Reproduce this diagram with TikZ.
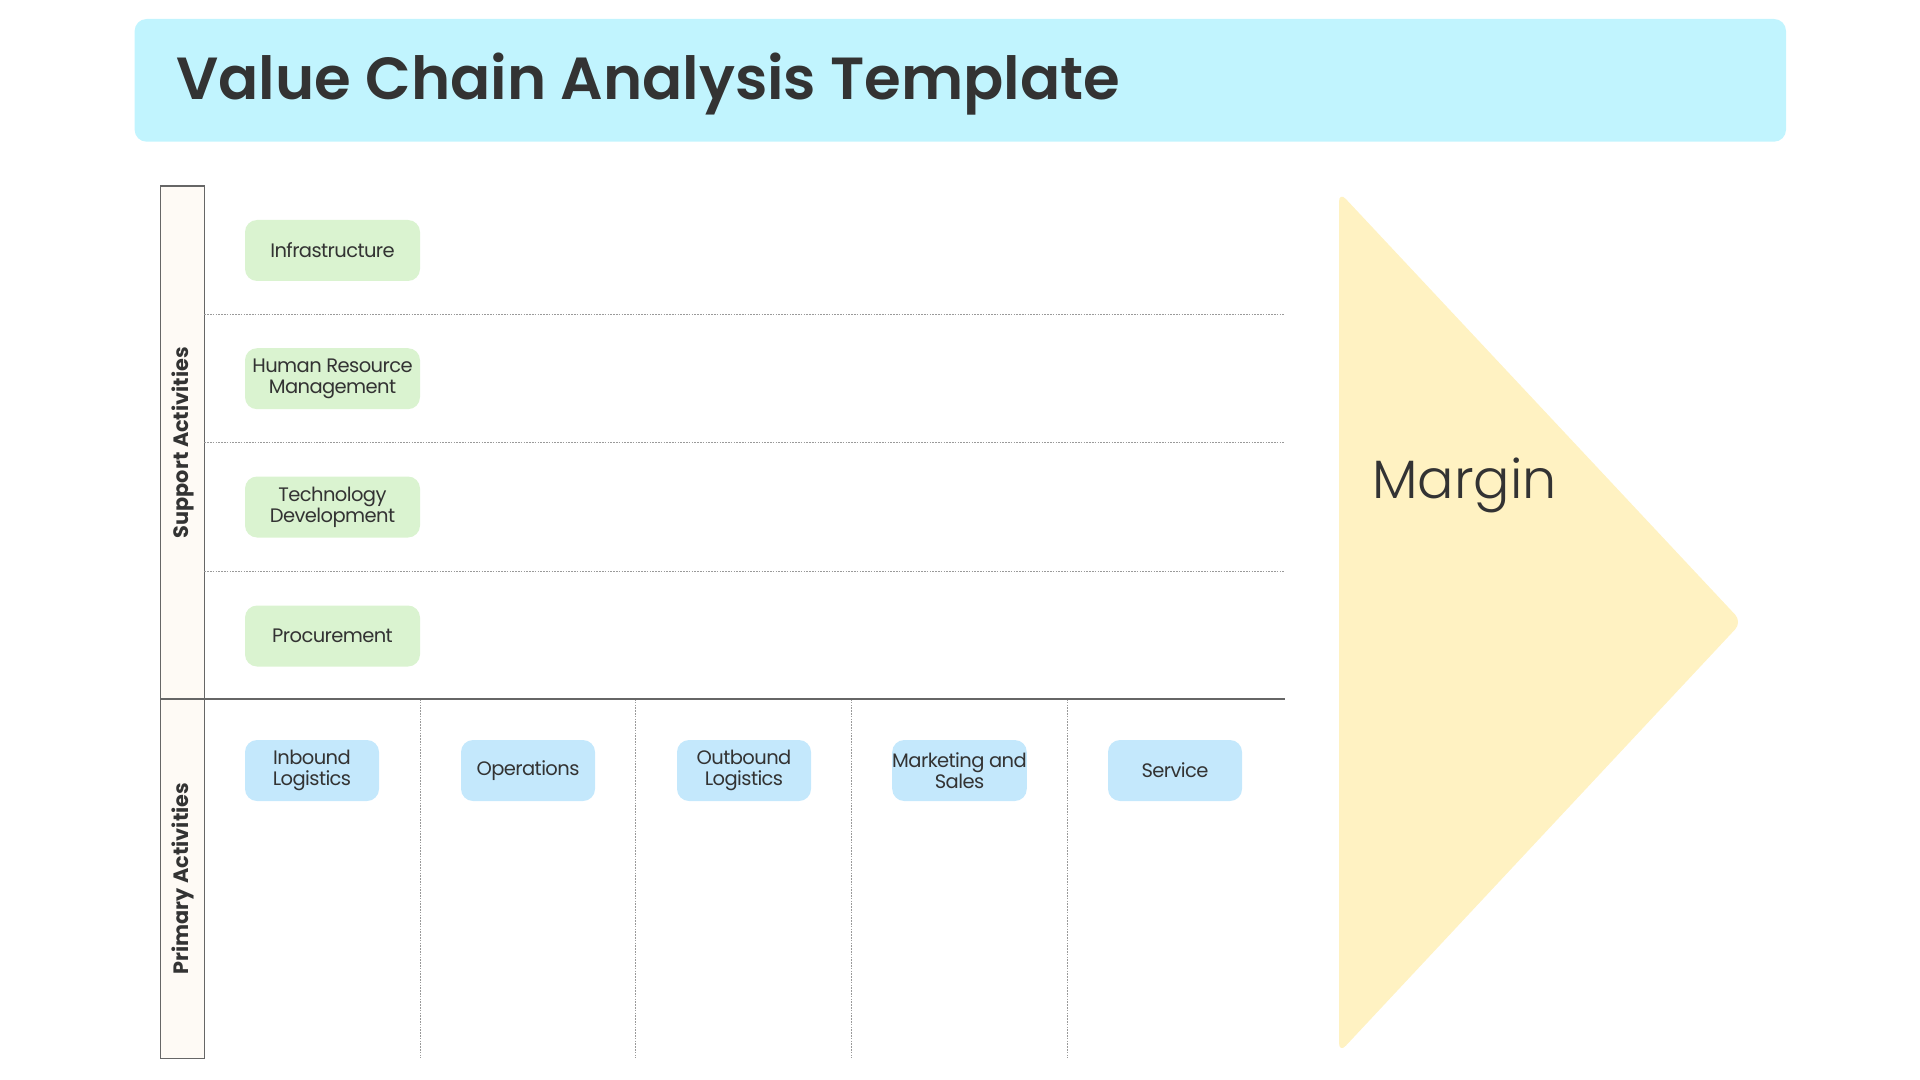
\documentclass[tikz,border=0pt]{standalone}
\usepackage{fontspec}
\setmainfont{Poppins}
\newfontfamily\titlefont{Poppins SemiBold}
\newfontfamily\marginfont{Poppins Light}
\usepackage{tikz}
\usetikzlibrary{calc,positioning}

\definecolor{titlecyan}{HTML}{C1F4FE}
\definecolor{supportgreen}{HTML}{DAF3D0}
\definecolor{primaryblue}{HTML}{C4E8FC}
\definecolor{marginyellow}{HTML}{FFF2C2}
\definecolor{labelcream}{HTML}{FEFAF5}
\definecolor{ink}{HTML}{333333}
\definecolor{framegray}{HTML}{666666}
\definecolor{dotgray}{HTML}{9A9A9A}

\tikzset{
  supportbox/.style={fill=supportgreen, rounded corners=6pt,
    minimum width=87.5pt, minimum height=30.5pt, inner sep=0pt,
    align=center, text=ink,
    font=\fontsize{9.75}{10.5}\selectfont\addfontfeatures{LetterSpace=-3}},
  primarybox/.style={supportbox, fill=primaryblue, minimum width=67pt},
  sidelabel/.style={rotate=90, text=ink,
    font=\bfseries\fontsize{10.4}{12}\selectfont},
  gridline/.style={draw=dotgray, line width=0.5pt,
    dash pattern=on 0.8pt off 0.6pt},
  frameline/.style={draw=framegray, line width=0.75pt}
}

\begin{document}
\begin{tikzpicture}[x=0.5pt,y=-0.5pt]
  \useasboundingbox (0,0) rectangle (1920,1080);
  \def\colL{160.7}
  \def\colR{204.3}
  \def\gridR{1285}
  \def\gridT{186}
  \def\gridM{699}
  \def\gridB{1058.3}
  % title
  \fill[titlecyan, rounded corners=6pt] (134.6,19) rectangle (1786,141.7);
  \node[anchor=base west, inner sep=0pt, text=ink,
    font=\titlefont\fontsize{29.7}{36}\selectfont]
    (title) at (176,99.3) {Value Chain Analysis Template};
  % margin arrow
  \coordinate (Mtop) at (1339,191.7);
  \coordinate (Mtip) at (1742,622);
  \coordinate (Mbot) at (1339,1053);
  \fill[marginyellow, rounded corners=5pt] (Mtop)--(Mtip)--(Mbot)--cycle;
  \node[anchor=base west, inner sep=0pt, text=ink,
    font=\marginfont\fontsize{27}{34}\selectfont]
    (margin) at (1372,498.3) {Margin};
  % label column
  \filldraw[fill=labelcream, frameline] (\colL,\gridT) rectangle (\colR,\gridB);
  \draw[gridline] (\colR,314.3)--(\gridR,314.3);
  \draw[gridline] (\colR,442.7)--(\gridR,442.7);
  \draw[gridline] (\colR,571)--(\gridR,571);
  \draw[gridline] (420,\gridM)--(420,\gridB);
  \draw[gridline] (635.7,\gridM)--(635.7,\gridB);
  \draw[gridline] (851.7,\gridM)--(851.7,\gridB);
  \draw[gridline] (1067.3,\gridM)--(1067.3,\gridB);
  \draw[frameline] (\colL,\gridM)--(\gridR,\gridM);
  \node[sidelabel] (support) at (182.5,442.7) {Support Activities};
  \node[sidelabel] (primary) at (182.5,878.6) {Primary Activities};
  % support activities
  \node[supportbox] (infra) at (332.5,250.5) {Infrastructure};
  \node[supportbox] (hrm) at (332.5,378.7) {Human Resource\\Management};
  \node[supportbox] (tech) at (332.5,507) {Technology\\Development};
  \node[supportbox] (proc) at (332.5,636) {Procurement};
  % primary activities
  \node[primarybox] (inbound) at (312,770.5) {Inbound\\Logistics};
  \node[primarybox] (ops) at (528,770.5) {Operations};
  \node[primarybox] (outbound) at (744,770.5) {Outbound\\Logistics};
  \node[primarybox] (mkt) at (959.5,770.5) {Marketing and\\Sales};
  \node[primarybox] (service) at (1175,770.5) {Service};
\end{tikzpicture}
\end{document}
